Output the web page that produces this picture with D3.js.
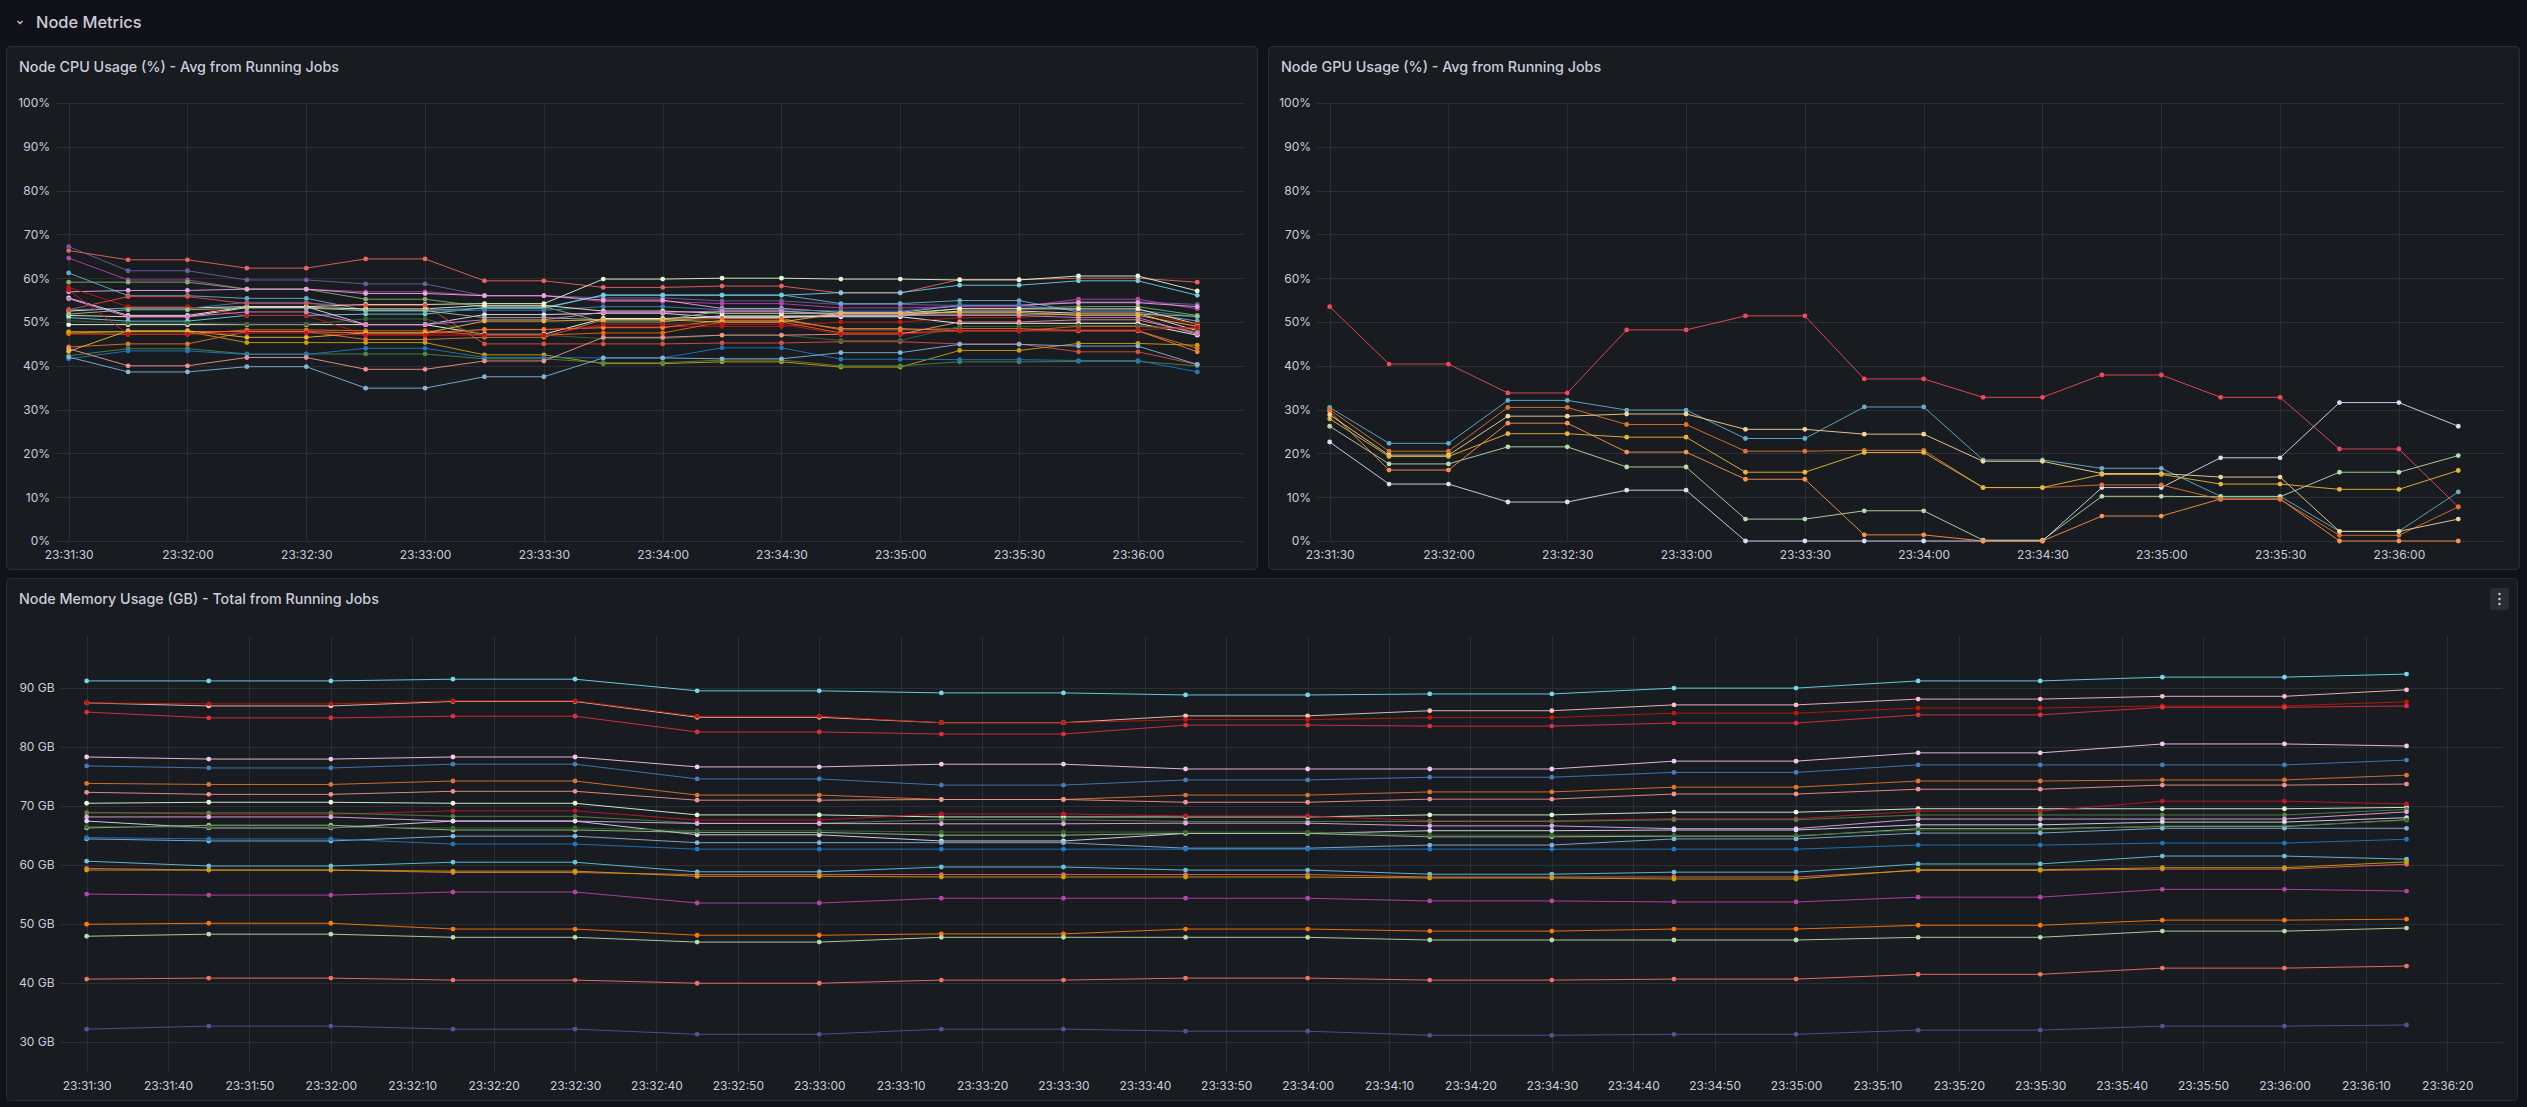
<!DOCTYPE html>
<html>
<head>
<meta charset="utf-8">
<script src="https://cdn.jsdelivr.net/npm/d3@7"></script>
<style>
  html, body { margin: 0; padding: 0; background: #111217; }
  svg { display: block; font-family: Inter, "Noto Sans", sans-serif; }
</style>
</head>
<body>
<div id="container"></div>
<script>
// sample times (every 15s)
let times = ["23:31:30","23:31:45","23:32:00","23:32:15","23:32:30","23:32:45","23:33:00","23:33:15","23:33:30","23:33:45",
             "23:34:00","23:34:15","23:34:30","23:34:45","23:35:00","23:35:15","23:35:30","23:35:45","23:36:00","23:36:15"];

let pctTicks = [0,10,20,30,40,50,60,70,80,90,100];
let memTicks = [30,40,50,60,70,80,90];

// CPU usage (%) per node
let cpuSeries = [
  [66.3,64.2,64.2,62.3,62.3,64.4,64.4,59.4,59.4,57.9,57.9,58.2,58.2,56.6,56.6,59.7,59.7,60.0,60.0,59.1],
  [67.2,61.7,61.7,59.6,59.6,58.7,58.7,56.0,56.0,55.5,55.5,54.8,54.8,54.0,54.0,53.8,53.8,54.6,54.6,54.0],
  [64.6,59.6,59.6,57.5,57.5,56.9,56.9,56.0,56.0,54.7,54.7,54.2,54.2,53.2,53.2,53.5,53.5,55.2,55.2,53.0],
  [61.2,56.0,56.0,55.4,55.4,52.7,52.7,53.1,53.1,56.2,56.2,56.2,56.2,54.2,54.2,54.9,54.9,52.3,52.3,50.2],
  [51.0,50.2,50.2,51.5,51.5,51.8,51.8,53.3,53.3,56.1,56.1,56.1,56.1,56.7,56.7,58.4,58.4,59.4,59.4,56.1],
  [52.5,53.2,53.2,53.5,53.5,54.0,54.0,54.2,54.2,59.8,59.8,60.0,60.0,59.8,59.8,59.6,59.6,60.5,60.5,57.1],
  [59.1,59.1,59.1,57.5,57.5,55.2,55.2,53.5,53.5,50.0,50.0,51.5,51.5,51.5,51.5,53.1,53.1,53.5,53.5,51.5],
  [56.9,57.2,57.2,57.5,57.5,56.5,56.5,56.0,56.0,55.0,55.0,53.1,53.1,52.2,52.2,53.8,53.8,54.4,54.4,53.5],
  [52.8,53.1,53.1,54.5,54.5,52.5,52.5,52.7,52.7,53.5,53.5,52.8,52.8,52.5,52.5,53.8,53.8,52.7,52.7,51.2],
  [49.4,49.4,49.4,49.4,49.4,49.4,49.4,47.2,47.2,50.8,50.8,51.2,51.2,51.2,51.2,49.7,49.7,49.7,49.7,47.0],
  [55.5,51.5,51.5,53.5,53.5,49.4,49.4,51.7,51.7,52.0,52.0,51.0,51.0,51.5,51.5,52.5,52.5,52.0,52.0,48.0],
  [51.5,51.2,51.2,53.3,53.3,53.0,53.0,53.8,53.8,52.5,52.5,52.0,52.0,52.0,52.0,53.0,53.0,53.0,53.0,49.5],
  [57.9,53.5,53.5,51.5,51.5,47.1,47.1,48.2,48.2,49.0,49.0,49.0,49.0,50.0,50.0,51.0,51.0,52.0,52.0,49.5],
  [52.8,55.8,55.8,54.2,54.2,53.8,53.8,45.0,45.0,45.0,45.0,45.2,45.2,45.5,45.5,45.0,45.0,43.2,43.2,40.3],
  [47.5,47.8,47.8,47.8,47.8,47.5,47.5,48.3,48.3,48.7,48.7,50.4,50.4,48.5,48.5,48.0,48.0,48.0,48.0,43.2],
  [47.3,47.2,47.2,48.2,48.2,48.0,48.0,47.0,47.0,47.5,47.5,50.0,50.0,47.5,47.5,48.0,48.0,49.0,49.0,48.5],
  [47.8,47.8,47.8,45.3,45.3,45.3,45.3,42.5,42.5,40.5,40.5,40.9,40.9,39.7,39.7,43.5,43.5,45.1,45.1,44.7],
  [44.3,45.0,45.0,47.8,47.8,46.0,46.0,46.5,46.5,50.5,50.5,50.8,50.8,48.2,48.2,48.5,48.5,48.0,48.0,44.0],
  [42.3,43.9,43.9,42.7,42.7,42.7,42.7,41.6,41.6,40.7,40.7,41.3,41.3,40.0,40.0,40.9,40.9,41.0,41.0,40.0],
  [50.3,49.7,49.7,49.5,49.5,50.7,50.7,47.0,47.0,46.2,46.2,47.0,47.0,45.8,45.8,49.0,49.0,49.2,49.2,48.0],
  [41.6,43.4,43.4,42.6,42.6,44.0,44.0,41.9,41.9,41.8,41.8,44.1,44.1,41.5,41.5,41.4,41.4,41.2,41.2,38.6],
  [42.0,38.6,38.6,39.8,39.8,34.9,34.9,37.5,37.5,41.8,41.8,41.6,41.6,43.0,43.0,44.9,44.9,44.5,44.5,40.3],
  [43.9,40.0,40.0,41.9,41.9,39.2,39.2,41.1,41.1,46.5,46.5,47.0,47.0,47.2,47.2,50.0,50.0,50.5,50.5,47.5],
  [51.8,52.8,52.8,53.2,53.2,52.6,52.6,51.0,51.0,50.5,50.5,52.5,52.5,51.8,51.8,51.8,51.8,51.8,51.8,51.3],
  [55.3,51.2,51.2,52.3,52.3,49.4,49.4,50.5,50.5,52.2,52.2,52.5,52.5,51.5,51.5,51.5,51.5,51.0,51.0,47.2],
  [43.3,48.0,48.0,46.5,46.5,47.5,47.5,50.2,50.2,50.5,50.5,50.0,50.0,52.0,52.0,52.2,52.2,51.5,51.5,49.0],
  [57.3,47.2,47.2,47.5,47.5,47.0,47.0,47.0,47.0,49.5,49.5,49.5,49.5,47.2,47.2,48.0,48.0,48.2,48.2,48.8]
];
let cpuColors = ["#EA6460","#705DA0","#BA43A9","#64B0C8","#6ED0E0","#E0F9D7","#7EB26D","#E5A8E2","#447EBC",
                 "#FFFFFF","#F9D9F9","#FCEACA","#BF1B00","#E24D42","#EF843C","#FA6400","#CCA300","#E0752D",
                 "#508642","#3F6833","#1F78C1","#82B5D8","#F29191","#9AC48A","#D683CE","#EAB839","#C4162A"];

// GPU usage (%) per node
let gpuSeries = [
  [53.5,40.4,40.4,33.8,33.8,48.2,48.2,51.4,51.4,37.0,37.0,32.8,32.8,37.9,37.9,32.8,32.8,21.0,21.0,7.8],
  [30.5,22.3,22.3,32.1,32.1,29.9,29.9,23.4,23.4,30.6,30.6,18.5,18.5,16.6,16.6,10.2,10.2,2.2,2.2,11.2],
  [22.6,13.0,13.0,8.9,8.9,11.6,11.6,0,0,0,0,0,0,12.2,12.2,19.0,19.0,31.6,31.6,26.2],
  [26.2,17.6,17.6,21.5,21.5,16.9,16.9,5.0,5.0,6.9,6.9,0.2,0.2,10.2,10.2,10.1,10.1,15.7,15.7,19.5],
  [29.6,16.2,16.2,26.9,26.9,20.3,20.3,14.1,14.1,1.4,1.4,0,0,5.7,5.7,9.6,9.6,0,0,0],
  [30.0,20.5,20.5,30.5,30.5,26.6,26.6,20.5,20.5,20.7,20.7,12.2,12.2,12.8,12.8,9.5,9.5,1.3,1.3,7.8],
  [28.8,19.6,19.6,28.5,28.5,29.0,29.0,25.5,25.5,24.4,24.4,18.2,18.2,15.4,15.4,14.6,14.6,2.2,2.2,5.0],
  [27.9,19.3,19.3,24.5,24.5,23.7,23.7,15.7,15.7,20.2,20.2,12.2,12.2,15.2,15.2,13.0,13.0,11.8,11.8,16.1]
];
let gpuColors = ["#F2495C","#64B0C8","#DEDAF7","#B7DBAB","#F9934E","#E0752D","#F4D598","#EAB839"];

// memory (GB) per node
let memSeries = [
  [91.16,91.16,91.16,91.45,91.45,89.48,89.48,89.13,89.13,88.78,88.78,88.95,88.95,89.94,89.94,91.16,91.16,91.8,91.8,92.32],
  [87.44,86.92,86.92,87.68,87.68,85.0,85.0,84.08,84.08,85.24,85.24,86.11,86.11,87.1,87.1,88.08,88.08,88.55,88.55,89.65],
  [87.44,87.27,87.27,87.79,87.79,85.18,85.18,84.08,84.08,84.6,84.6,84.95,84.95,85.7,85.7,86.57,86.57,86.92,86.92,87.62],
  [85.88,84.89,84.89,85.18,85.18,82.51,82.51,82.16,82.16,83.67,83.67,83.5,83.5,84.02,84.02,85.41,85.41,86.69,86.69,86.92],
  [78.27,77.92,77.92,78.27,78.27,76.59,76.59,77.05,77.05,76.24,76.24,76.24,76.24,77.57,77.57,78.97,78.97,80.48,80.48,80.13],
  [76.76,76.41,76.41,77.05,77.05,74.55,74.55,73.51,73.51,74.38,74.38,74.84,74.84,75.66,75.66,76.93,76.93,76.93,76.93,77.75],
  [73.8,73.62,73.62,74.2,74.2,71.82,71.82,71.07,71.07,71.82,71.82,72.35,72.35,73.16,73.16,74.2,74.2,74.38,74.38,75.19],
  [72.29,71.94,71.94,72.46,72.46,70.95,70.95,71.07,71.07,70.6,70.6,71.13,71.13,72.0,72.0,72.81,72.81,73.51,73.51,73.68],
  [70.43,70.6,70.6,70.43,70.43,68.46,68.46,68.11,68.11,68.11,68.11,68.46,68.46,68.92,68.92,69.5,69.5,69.5,69.5,69.73],
  [68.92,68.57,68.57,69.15,69.15,67.58,67.58,68.63,68.63,68.28,68.28,67.47,67.47,67.82,67.82,69.09,69.09,70.78,70.78,70.31],
  [68.8,68.8,68.8,68.22,68.22,67.06,67.06,67.64,67.64,67.35,67.35,67.35,67.35,67.64,67.64,68.45,68.45,68.45,68.45,69.38],
  [68.11,68.11,68.11,67.41,67.41,67.0,67.0,66.95,66.95,67.06,67.06,66.6,66.6,66.13,66.13,67.76,67.76,67.76,67.76,68.98],
  [67.41,66.25,66.25,67.41,67.41,65.09,65.09,64.04,64.04,65.32,65.32,65.78,65.78,65.9,65.9,66.77,66.77,67.24,67.24,67.99],
  [66.25,66.71,66.71,65.9,65.9,65.49,65.49,65.03,65.03,65.32,65.32,64.74,64.74,64.86,64.86,66.13,66.13,66.48,66.48,67.64],
  [66.48,66.37,66.37,66.25,66.25,65.78,65.78,65.55,65.55,65.55,65.55,65.03,65.03,64.97,64.97,65.9,65.9,66.6,66.6,67.53],
  [64.39,64.04,64.04,64.86,64.86,63.75,63.75,63.75,63.75,62.82,62.82,63.35,63.35,64.39,64.39,65.38,65.38,66.19,66.19,66.19],
  [64.62,64.39,64.39,63.52,63.52,62.65,62.65,62.65,62.65,62.65,62.65,62.65,62.65,62.65,62.65,63.35,63.35,63.69,63.69,64.33],
  [60.62,59.8,59.8,60.44,60.44,58.82,58.82,59.63,59.63,59.11,59.11,58.41,58.41,58.76,58.76,60.15,60.15,61.49,61.49,60.96],
  [59.4,59.11,59.11,58.7,58.7,58.35,58.35,58.35,58.35,58.35,58.35,57.94,57.94,57.94,57.94,59.05,59.05,59.28,59.28,60.1],
  [59.11,59.11,59.11,58.93,58.93,58.06,58.06,57.94,57.94,57.94,57.94,57.77,57.77,57.6,57.6,59.17,59.17,59.51,59.51,60.5],
  [55.04,54.87,54.87,55.39,55.39,53.53,53.53,54.34,54.34,54.34,54.34,53.88,53.88,53.71,53.71,54.52,54.52,55.85,55.85,55.56],
  [49.93,50.1,50.1,49.12,49.12,48.07,48.07,48.3,48.3,49.12,49.12,48.77,48.77,49.12,49.12,49.76,49.76,50.63,50.63,50.8],
  [47.9,48.25,48.25,47.72,47.72,46.91,46.91,47.72,47.72,47.72,47.72,47.26,47.26,47.26,47.26,47.72,47.72,48.77,48.77,49.29],
  [40.64,40.81,40.81,40.47,40.47,39.94,39.94,40.47,40.47,40.81,40.81,40.47,40.47,40.64,40.64,41.45,41.45,42.5,42.5,42.85],
  [32.16,32.68,32.68,32.16,32.16,31.29,31.29,32.16,32.16,31.81,31.81,31.12,31.12,31.29,31.29,31.99,31.99,32.68,32.68,32.86]
];
let memColors = ["#70DBED","#F9BFC0","#BF1B00","#E02F44","#F4C6F0","#447EBC","#E0752D","#F29191","#E0F9D7",
                 "#C4162A","#508642","#E5A8E2","#DEDAF7","#9AC48A","#3F6833","#82B5D8","#1F78C1","#65C5DB",
                 "#EA6460","#CCA300","#BA43A9","#FF780A","#B7DBAB","#F2736A","#614D93"];

let W = 2527, H = 1107;
let textColor = "#ccccdc";
let gridColor = "#2b2e33";

let svg = d3.select("#container").append("svg")
    .attr("width", W)
    .attr("height", H);

svg.append("rect").attr("width", W).attr("height", H).attr("fill", "#111217");

// row header
svg.append("path")
    .attr("d", "M17.5,21 L20,23.5 L22.5,21")
    .attr("fill", "none")
    .attr("stroke", textColor)
    .attr("stroke-width", 1.3);
svg.append("text")
    .attr("x", 36).attr("y", 28)
    .attr("fill", textColor)
    .style("font-size", "16.4px")
    .style("font-weight", 500)
    .text("Node Metrics");

let parseT = d3.timeParse("%H:%M:%S");
let dates = times.map(parseT);
let start = d3.timeMillisecond.offset(dates[0], -3200);
let end = d3.timeMillisecond.offset(dates[0], 296800);
let fmtT = d3.timeFormat("%H:%M:%S");

function drawPanel(cfg) {
  let g = svg.append("g");

  g.append("rect")
      .attr("x", cfg.box[0]).attr("y", cfg.box[1])
      .attr("width", cfg.box[2]).attr("height", cfg.box[3])
      .attr("rx", 4)
      .attr("fill", "#181b1f")
      .attr("stroke", "#2a2d33");

  g.append("text")
      .attr("x", cfg.box[0] + 12.5).attr("y", cfg.box[1] + 25.5)
      .attr("fill", textColor)
      .style("font-size", "14.3px")
      .style("font-weight", 500)
      .text(cfg.title);

  let x = d3.scaleTime().domain([start, end]).range([cfg.left, cfg.right]);
  let y = d3.scaleLinear().domain(cfg.yDomain).range([cfg.bottom, cfg.top]);

  let xTicks = x.ticks(d3.timeSecond.every(cfg.every));

  // grid
  g.selectAll(".hgrid").data(cfg.yTicks).enter().append("line")
      .attr("x1", cfg.left).attr("x2", cfg.right)
      .attr("y1", d => Math.round(y(d)) + 0.5).attr("y2", d => Math.round(y(d)) + 0.5)
      .attr("stroke", gridColor);
  g.selectAll(".vgrid").data(xTicks).enter().append("line")
      .attr("x1", d => Math.round(x(d)) + 0.5).attr("x2", d => Math.round(x(d)) + 0.5)
      .attr("y1", cfg.top).attr("y2", cfg.bottom)
      .attr("stroke", gridColor);

  // axes
  let yAxis = d3.axisLeft(y).tickValues(cfg.yTicks).tickFormat(cfg.yFmt).tickSize(0).tickPadding(6);
  let ya = g.append("g").attr("transform", "translate(" + cfg.left + ",0)").call(yAxis);
  ya.select(".domain").remove();
  ya.selectAll("text").attr("fill", textColor).style("font-size", "12px").style("font-family", "Inter, sans-serif");

  let xAxis = d3.axisBottom(x).tickValues(xTicks).tickFormat(fmtT).tickSize(0).tickPadding(9);
  let xa = g.append("g").attr("transform", "translate(0," + cfg.bottom + ")").call(xAxis);
  xa.select(".domain").remove();
  xa.selectAll("text").attr("fill", textColor).style("font-size", "12px").style("font-family", "Inter, sans-serif");

  // series
  let line = d3.line()
      .x((d, i) => x(dates[i]))
      .y(d => y(d));

  let s = g.selectAll(".series").data(cfg.series).enter().append("g");
  s.append("path")
      .attr("d", d => line(d))
      .attr("fill", "none")
      .attr("stroke", (d, i) => cfg.colors[i % cfg.colors.length])
      .attr("stroke-width", 1)
      .attr("stroke-opacity", 0.9);
  s.each(function(d, i) {
    d3.select(this).selectAll("circle").data(d).enter().append("circle")
        .attr("cx", (v, j) => x(dates[j]))
        .attr("cy", v => y(v))
        .attr("r", 2.4)
        .attr("fill", cfg.colors[i % cfg.colors.length]);
  });
  return g;
}

drawPanel({
  box: [6.5, 46.5, 1251, 523],
  title: "Node CPU Usage (%) - Avg from Running Jobs",
  left: 56, right: 1244, top: 103, bottom: 541,
  yDomain: [0, 100], yTicks: pctTicks, yFmt: d => d + "%",
  every: 30, series: cpuSeries, colors: cpuColors
});

drawPanel({
  box: [1268.5, 46.5, 1251, 523],
  title: "Node GPU Usage (%) - Avg from Running Jobs",
  left: 1317, right: 2505, top: 103, bottom: 541,
  yDomain: [0, 100], yTicks: pctTicks, yFmt: d => d + "%",
  every: 30, series: gpuSeries, colors: gpuColors
});

drawPanel({
  box: [6.5, 578.5, 2511, 522],
  title: "Node Memory Usage (GB) - Total from Running Jobs",
  left: 60.6, right: 2502.6, top: 637, bottom: 1072,
  yDomain: [24.9, 98.6], yTicks: memTicks, yFmt: d => d + " GB",
  every: 10, series: memSeries, colors: memColors
});

// panel menu button
svg.append("rect")
    .attr("x", 2490).attr("y", 588).attr("width", 19).attr("height", 22).attr("rx", 3)
    .attr("fill", "#2a2d33");
svg.selectAll(".dot").data([594, 599, 604]).enter().append("circle")
    .attr("cx", 2499.5).attr("cy", d => d).attr("r", 1.2)
    .attr("fill", textColor);
</script>
</body>
</html>
